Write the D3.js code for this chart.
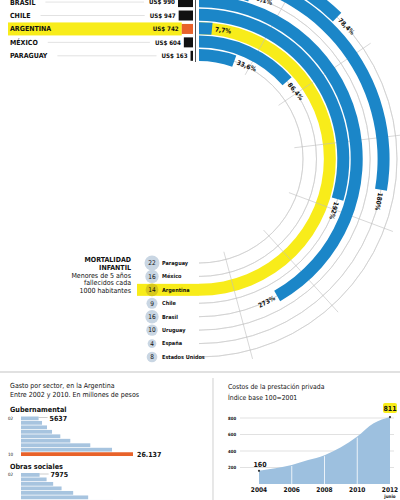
<!DOCTYPE html>
<html><head><meta charset="utf-8">
<script src="https://cdn.jsdelivr.net/npm/d3@7"></script>
<style>
body{margin:0;background:#fff}
svg{display:block}
text{font-family:"Liberation Sans Narrow","DejaVu Sans Condensed","Roboto",sans-serif;fill:#111}
</style>
</head><body>
<svg id="c" width="400" height="500"></svg>
<script>
// ---------- DATA ----------
const ringCountries = ["Paraguay","México","Argentina","Chile","Brasil","Uruguay","España","Estados Unidos"];
const growthPct = [33.6, 86.4, 7.7, 192, 273, 29.1, 180, 78.4];
const mortality = [22, 16, 14, 9, 16, 10, 4, 8];
const ringTicks = [50, 100, 150, 200, 250, 300];

const spendCountries = ["Brasil","Chile","Argentina","México","Paraguay"];
const spendUSD = [990, 947, 742, 604, 163];

const gubYears = ["02","03","04","05","06","07","08","09","10"];
const gubValues = [5637, 6380, 7460, 8550, 10350, 12520, 16860, 21580, 26137];
const obrasYears = ["02","03","04","05","06","07","08"];
const obrasValues = [7975, 9490, 10920, 12745, 15265, 18520, 23880];

const costYears = [2004, 2005, 2006, 2007, 2008, 2009, 2010, 2011, 2012];
const costIndex = [160, 190, 230, 290, 350, 445, 575, 735, 811];
const costYTicks = [200, 400, 600, 800];
const costXTicks = [2004, 2006, 2008, 2010, 2012];

// ---------- SETUP ----------
const svg = d3.select("#c");
const BLUE = "#1b86c8", YELLOW = "#f8ec1a", ORANGE = "#e8622a", LIGHT = "#a7c4df";
const fmtPct = v => String(v).replace(".", ",") + "%";
const deg = Math.PI / 180;

const cx = 199, cy = 159;
const rS = d3.scalePoint().domain(ringCountries).range([104, 198]);
const ang = d3.scaleLinear().domain([0, 300]).range([1.5 * deg, 165 * deg]);
const half = 6;

// grid circles
const gArc = d3.arc();
const radial = svg.append("g").attr("transform", `translate(${cx},${cy})`);
ringCountries.forEach(c => {
  radial.append("path")
    .attr("d", d3.arc()({innerRadius: rS(c), outerRadius: rS(c), startAngle: 0, endAngle: Math.PI}))
    .attr("fill", "none").attr("stroke", "#c9c9c9").attr("stroke-width", 0.6);
});

// Argentina highlight
const rA = rS("Argentina");
radial.append("path")
  .attr("d", gArc({innerRadius: rA - half, outerRadius: rA + half, startAngle: 0, endAngle: Math.PI}))
  .attr("fill", YELLOW);
svg.append("rect").attr("x", 137).attr("y", cy + rA - half).attr("width", cx - 137).attr("height", 2 * half).attr("fill", YELLOW);

// radial ticks
ringTicks.forEach(t => {
  const a = ang(t);
  radial.append("line")
    .attr("x1", 96 * Math.sin(a)).attr("y1", -96 * Math.cos(a))
    .attr("x2", 207 * Math.sin(a)).attr("y2", -207 * Math.cos(a))
    .attr("stroke", "#bdbdbd").attr("stroke-width", 0.6);
});

// bars
ringCountries.forEach((c, i) => {
  radial.append("path")
    .attr("d", gArc({innerRadius: rS(c) - half, outerRadius: rS(c) + half, startAngle: 0, endAngle: ang(growthPct[i])}))
    .attr("fill", BLUE);
});

// bar labels
ringCountries.forEach((c, i) => {
  const R = rS(c);
  const a = ang(growthPct[i]) + 3 / R;
  const ad = a / deg;
  const x = R * Math.sin(a), y = -R * Math.cos(a);
  const flip = ad > 120;
  radial.append("text")
    .attr("transform", `translate(${x},${y}) rotate(${flip ? ad - 180 : ad})`)
    .attr("text-anchor", flip ? "end" : "start")
    .attr("dy", "0.35em")
    .attr("font-size", 6.5).attr("font-weight", "bold")
    .text(fmtPct(growthPct[i]));
});

// ---------- TOP TABLE ----------
const wS = d3.scaleLinear().domain([0, 990]).range([0, 15]);
const barRight = 193;
svg.append("line").attr("x1", 195.5).attr("x2", 195.5).attr("y1", 0).attr("y2", 62).attr("stroke", "#555").attr("stroke-width", 1);
spendCountries.forEach((c, i) => {
  const y = cy - rS(c) + 0.8;
  const v = spendUSD[i];
  const isA = c === "Argentina";
  if (isA) svg.append("rect").attr("x", 8).attr("y", y - 6.5).attr("width", barRight - wS(v) - 8).attr("height", 13).attr("fill", YELLOW);
  svg.append("rect").attr("x", barRight - wS(v)).attr("y", y - 5).attr("width", wS(v)).attr("height", 10).attr("fill", isA ? ORANGE : "#111");
  const nm = svg.append("text").attr("x", 10).attr("y", y).attr("dy", "0.35em")
    .attr("font-size", 7).attr("font-weight", "bold").text(c.toUpperCase());
  const val = svg.append("text").attr("x", barRight - wS(v) - 3).attr("y", y).attr("dy", "0.35em")
    .attr("text-anchor", "end").attr("font-size", 6.2).attr("font-weight", "bold").text("US$ " + v);
  const x1 = 10 + nm.node().getComputedTextLength() + 10;
  const x2 = barRight - wS(v) - 3 - val.node().getComputedTextLength() - 5;
  if (!isA) svg.append("line").attr("x1", x1).attr("x2", x2).attr("y1", y).attr("y2", y).attr("stroke", "#c4c4c4").attr("stroke-width", 0.5);
});

// ---------- MORTALITY LABELS ----------
const cR = d3.scaleSqrt().domain([0, 22]).range([2, 7.5]);
ringCountries.forEach((c, i) => {
  const y = cy + rS(c);
  const isA = c === "Argentina";
  svg.append("circle").attr("cx", 152).attr("cy", y).attr("r", cR(mortality[i])).attr("fill", isA ? "#d8c81c" : "#c9d6e3");
  svg.append("text").attr("x", 152).attr("y", y).attr("dy", "0.35em").attr("text-anchor", "middle")
    .attr("font-size", 6.5).text(mortality[i]);
  svg.append("text").attr("x", 162).attr("y", y).attr("dy", "0.35em")
    .attr("font-size", 5.5).attr("font-weight", "bold").text(c);
});
const mortText = [["MORTALIDAD", true], ["INFANTIL", true], ["Menores de 5 años", false], ["fallecidos cada", false], ["1000 habitantes", false]];
mortText.forEach((t, i) => {
  svg.append("text").attr("x", 131).attr("y", 260 + i * 7.6).attr("dy", "0.35em").attr("text-anchor", "end")
    .attr("font-size", 7).attr("font-weight", t[1] ? "bold" : "normal").text(t[0]);
});

// ---------- SEPARATORS ----------
svg.append("line").attr("x1", 0).attr("x2", 400).attr("y1", 372).attr("y2", 372).attr("stroke", "#aaa").attr("stroke-width", 0.7);
svg.append("line").attr("x1", 213).attr("x2", 213).attr("y1", 378).attr("y2", 500).attr("stroke", "#bbb").attr("stroke-width", 0.7);

// ---------- LEFT PANEL ----------
svg.append("text").attr("x", 10).attr("y", 386).attr("dy", "0.35em").attr("font-size", 7).text("Gasto por sector, en la Argentina");
svg.append("text").attr("x", 10).attr("y", 395).attr("dy", "0.35em").attr("font-size", 7).text("Entre 2002 y 2010. En millones de pesos");
svg.append("text").attr("x", 10).attr("y", 409.5).attr("dy", "0.35em").attr("font-size", 7.2).attr("font-weight", "bold").text("Gubernamental");
svg.append("text").attr("x", 10).attr("y", 466).attr("dy", "0.35em").attr("font-size", 7.2).attr("font-weight", "bold").text("Obras sociales");

function stepBars(years, values, x, y0, labelFirst, labelLast) {
  const yB = d3.scaleBand().domain(years).range([y0, y0 + years.length * 4.39]).paddingInner(0.16);
  years.forEach((yr, i) => {
    const last = i === years.length - 1 && labelLast;
    svg.append("rect").attr("x", x.range()[0]).attr("y", yB(yr)).attr("width", x(values[i]) - x.range()[0])
      .attr("height", yB.bandwidth()).attr("fill", last ? ORANGE : LIGHT);
  });
  const f = years[0];
  svg.append("text").attr("x", 8).attr("y", yB(f) + yB.bandwidth() / 2).attr("dy", "0.35em").attr("font-size", 4.5).text(f);
  svg.append("line").attr("x1", x(values[0])).attr("x2", x(values[0]) + 9).attr("y1", yB(f) + 1).attr("y2", yB(f) + 1).attr("stroke", "#999").attr("stroke-width", 0.5);
  svg.append("text").attr("x", x(values[0]) + 11).attr("y", yB(f) + yB.bandwidth() / 2).attr("dy", "0.35em")
    .attr("font-size", 7).attr("font-weight", "bold").text(labelFirst);
  if (labelLast) {
    const l = years[years.length - 1];
    svg.append("text").attr("x", 8).attr("y", yB(l) + yB.bandwidth() / 2).attr("dy", "0.35em").attr("font-size", 4.5).text(l);
    svg.append("text").attr("x", x(values[values.length - 1]) + 4).attr("y", yB(l) + yB.bandwidth() / 2).attr("dy", "0.35em")
      .attr("font-size", 7).attr("font-weight", "bold").text(labelLast);
  }
}
const xGub = d3.scaleLinear().domain([1815, 26137]).range([21, 133]);
const xObr = d3.scaleLinear().domain([3935, 28257]).range([21, 133]);
stepBars(gubYears, gubValues, xGub, 416.5, "5637", "26.137");
stepBars(obrasYears, obrasValues, xObr, 473, "7975", null);

// ---------- RIGHT PANEL ----------
svg.append("text").attr("x", 228).attr("y", 386.5).attr("dy", "0.35em").attr("font-size", 6.8).text("Costos de la prestación privada");
svg.append("text").attr("x", 228).attr("y", 397.5).attr("dy", "0.35em").attr("font-size", 6.8).text("Índice base 100=2001");

const xC = d3.scaleLinear().domain([2004, 2012]).range([259, 390]);
const yC = d3.scaleLinear().domain([0, 800]).range([484, 418]);
costYTicks.forEach(t => {
  svg.append("line").attr("x1", 240).attr("x2", 394).attr("y1", yC(t)).attr("y2", yC(t)).attr("stroke", "#ccc").attr("stroke-width", 0.6);
  svg.append("text").attr("x", 228).attr("y", yC(t)).attr("dy", "0.35em").attr("font-size", 4.3).attr("font-weight", "bold").text(t);
});
const pts = costYears.map((y, i) => [y, costIndex[i]]);
svg.append("path").datum(pts)
  .attr("d", d3.area().x(d => xC(d[0])).y0(yC(0)).y1(d => yC(d[1])).curve(d3.curveMonotoneX))
  .attr("fill", "#9dc0df");
costXTicks.slice(1, -1).forEach(t => {
  const i = costYears.indexOf(t);
  svg.append("line").attr("x1", xC(t)).attr("x2", xC(t)).attr("y1", yC(0)).attr("y2", yC(costIndex[i]) + 1).attr("stroke", "#fff").attr("stroke-width", 0.8);
});
costXTicks.forEach(t => {
  svg.append("text").attr("x", xC(t)).attr("y", 490).attr("dy", "0.35em").attr("text-anchor", "middle")
    .attr("font-size", 6.5).attr("font-weight", "bold").text(t);
});
svg.append("text").attr("x", xC(2012)).attr("y", 496.5).attr("dy", "0.35em").attr("text-anchor", "middle").attr("font-size", 4.5).attr("font-weight", "bold").text("junio");
// end points
const p0 = pts[0], p1 = pts[pts.length - 1];
[p0, p1].forEach(p => svg.append("circle").attr("cx", xC(p[0])).attr("cy", yC(p[1])).attr("r", 1.1).attr("fill", "#333"));
svg.append("text").attr("x", xC(p0[0]) + 1).attr("y", yC(p0[1]) - 6).attr("dy", "0.35em").attr("text-anchor", "middle")
  .attr("font-size", 7).attr("font-weight", "bold").text(p0[1]);
svg.append("rect").attr("x", xC(p1[0]) - 7).attr("y", yC(p1[1]) - 14).attr("width", 14).attr("height", 10).attr("rx", 2).attr("fill", YELLOW);
svg.append("text").attr("x", xC(p1[0])).attr("y", yC(p1[1]) - 9).attr("dy", "0.35em").attr("text-anchor", "middle")
  .attr("font-size", 7).attr("font-weight", "bold").text(p1[1]);
</script>
</body></html>
